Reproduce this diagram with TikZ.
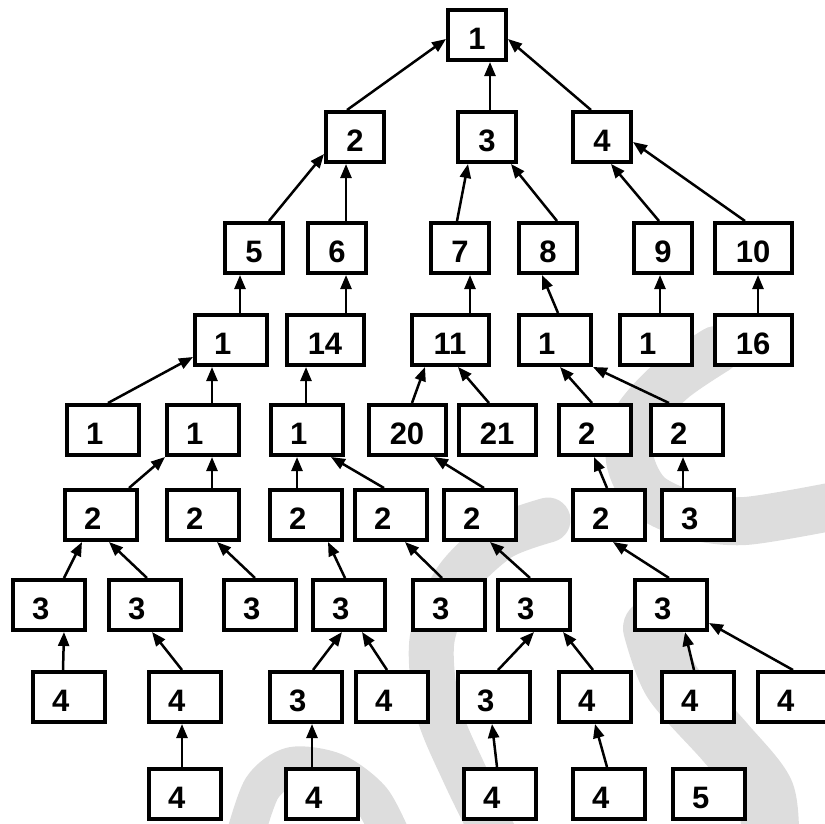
\documentclass[tikz,border=0pt]{standalone}
\usepackage{fontspec}
\setmainfont{Liberation Sans}
\usetikzlibrary{arrows.meta}
\definecolor{wmgray}{RGB}{221,221,221}
\begin{document}
\begin{tikzpicture}[x=1pt, y=-1pt,
	nbox/.style={draw, fill=white, line width=4pt, minimum height=50pt, inner ysep=0pt, text height=29pt, text depth=0pt, font=\fontsize{31}{31}\selectfont\bfseries},
	tbox/.style={nbox, minimum width=58pt},
	lbox/.style={nbox, text width=34pt, align=left, inner xsep=19pt},
	dbox/.style={nbox, minimum width=77pt},
	arr/.style={line width=2.5pt, -{Triangle[length=14pt, width=11pt]}},
	wmark/.style={wmgray, line cap=round, line join=round}]
		\useasboundingbox (0,0) rectangle (825,823);

		%grey marks behind the tree
		\draw[wmark, line width=48pt] plot[smooth] coordinates {(716,350) (672,380) (636,420) (630,460) (648,495) (690,515) (745,521) (835,506)};
		\draw[wmark, line width=45pt] plot[smooth] coordinates {(548,520) (500,538) (456,580) (432,640) (438,710) (465,775) (497,840)};
		\draw[wmark, line width=58pt] plot[smooth] coordinates {(652,628) (672,682) (725,742) (765,792) (770,845)};
		\draw[wmark, line width=38pt] plot[smooth] coordinates {(244,840) (262,788) (292,766) (335,772) (372,800) (395,845)};

		%top
		\node[tbox] (r1) at (477,35) {1};
		\node[tbox] (a2) at (355,137) {2};
		\node[tbox] (a3) at (487,137) {3};
		\node[tbox] (a4) at (602,137) {4};
		\node[tbox] (b5) at (254,248) {5};
		\node[tbox] (b6) at (337,248) {6};
		\node[tbox] (b7) at (460,248) {7};
		\node[tbox] (b8) at (548,248) {8};
		\node[tbox] (b9) at (663,248) {9};
		\node[dbox] (b10) at (753,248) {10};

		%fourth row
		\node[lbox] (c1) at (231,340) {1};
		\node[dbox] (c14) at (325,340) {14};
		\node[dbox] (c11) at (450,340) {11};
		\node[lbox] (c1b) at (555,340) {1};
		\node[lbox] (c1c) at (656,340) {1};
		\node[dbox] (c16) at (753,340) {16};

		%fifth row
		\node[lbox] (d1) at (103,430) {1};
		\node[lbox] (d1b) at (203,430) {1};
		\node[lbox] (d1c) at (307,430) {1};
		\node[dbox] (d20) at (407,430) {20};
		\node[dbox] (d21) at (497,430) {21};
		\node[lbox] (d2) at (595,430) {2};
		\node[lbox] (d2b) at (687,430) {2};

		%sixth row
		\node[lbox] (e2) at (101,515) {2};
		\node[lbox] (e2b) at (203,515) {2};
		\node[lbox] (e2c) at (306,515) {2};
		\node[lbox] (e2d) at (391,515) {2};
		\node[lbox] (e2e) at (480,515) {2};
		\node[lbox] (e2f) at (609,515) {2};
		\node[lbox] (e3) at (698,515) {3};

		%seventh row
		\node[lbox] (f3) at (49,605) {3};
		\node[lbox] (f3b) at (145,605) {3};
		\node[lbox] (f3c) at (260,605) {3};
		\node[lbox] (f3d) at (349,605) {3};
		\node[lbox] (f3e) at (449,605) {3};
		\node[lbox] (f3f) at (534,605) {3};
		\node[lbox] (f3g) at (671,605) {3};

		%eighth row
		\node[lbox] (g4) at (69,697) {4};
		\node[lbox] (g4b) at (185,697) {4};
		\node[lbox] (g3) at (306,697) {3};
		\node[lbox] (g4c) at (392,697) {4};
		\node[lbox] (g3b) at (494,697) {3};
		\node[lbox] (g4d) at (595,697) {4};
		\node[lbox] (g4e) at (698,697) {4};
		\node[lbox] (g4f) at (794,697) {4};

		%bottom
		\node[lbox] (h4) at (185,794) {4};
		\node[lbox] (h4b) at (322,794) {4};
		\node[lbox] (h4c) at (500,794) {4};
		\node[lbox] (h4d) at (609,794) {4};
		\node[lbox] (h5) at (709,794) {5};

		%arrows up to the top
		\draw[arr] ([xshift=-8pt]a2.north) -- ([yshift=-4pt]r1.west);
		\draw[arr] ([xshift=3pt]a3.north) -- ([xshift=13pt]r1.south);
		\draw[arr] ([xshift=-11pt]a4.north) -- ([yshift=-4pt]r1.east);
		\draw[arr] ([xshift=15pt]b5.north) -- ([yshift=-17pt]a2.west);
		\draw[arr] ([xshift=9pt]b6.north) -- ([xshift=-9pt]a2.south);
		\draw[arr] ([xshift=-3pt]b7.north) -- ([xshift=-19pt]a3.south);
		\draw[arr] ([xshift=9pt]b8.north) -- ([xshift=24pt]a3.south);
		\draw[arr] ([xshift=-4pt]b9.north) -- ([xshift=9pt]a4.south);
		\draw[arr] ([xshift=-8pt]b10.north) -- ([yshift=-5pt]a4.east);

		%fourth row
		\draw[arr] ([xshift=9pt]c1.north) -- ([xshift=-14pt]b5.south);
		\draw[arr] ([xshift=21pt]c14.north) -- ([xshift=9pt]b6.south);
		\draw[arr] ([xshift=20pt]c11.north) -- ([xshift=10pt]b7.south);
		\draw[arr] ([xshift=3pt]c1b.north) -- ([xshift=-6pt]b8.south);
		\draw[arr] ([xshift=4pt]c1c.north) -- ([xshift=-3pt]b9.south);
		\draw[arr] ([xshift=5pt]c16.north) -- ([xshift=5pt]b10.south);

		%fifth row
		\draw[arr] ([xshift=5pt]d1.north) -- ([yshift=-17pt]c1.west);
		\draw[arr] ([xshift=9pt]d1b.north) -- ([xshift=-19pt]c1.south);
		\draw[arr] ([xshift=-1pt]d1c.north) -- ([xshift=-19pt]c14.south);
		\draw[arr] ([xshift=5pt]d20.north) -- ([xshift=-25pt]c11.south);
		\draw[arr] ([xshift=-8pt]d21.north) -- ([xshift=8pt]c11.south);
		\draw[arr] ([xshift=-3pt]d2.north) -- ([xshift=5pt]c1b.south);
		\draw[arr] ([xshift=-18pt]d2b.north) -- (c1b.south east);

		%sixth row
		\draw[arr] ([xshift=28pt]e2.north) -- (d1b.south west);
		\draw[arr] ([xshift=9pt]e2b.north) -- ([xshift=9pt]d1b.south);
		\draw[arr] ([xshift=-9pt]e2c.north) -- ([xshift=-10pt]d1c.south);
		\draw[arr] ([xshift=-7pt]e2d.north) -- ([xshift=24pt]d1c.south);
		\draw[arr] ([xshift=4pt]e2e.north) -- ([xshift=27pt]d20.south);
		\draw[arr] ([xshift=-2pt]e2f.north) -- ([xshift=-1pt]d2.south);
		\draw[arr] ([xshift=-15pt]e3.north) -- ([xshift=-4pt]d2b.south);

		%seventh row
		\draw[arr] ([xshift=15pt]f3.north) -- ([xshift=-19pt]e2.south);
		\draw[arr] ([xshift=2pt]f3b.north) -- ([xshift=8pt]e2.south);
		\draw[arr] ([xshift=-5pt]f3c.north) -- ([xshift=14pt]e2b.south);
		\draw[arr] ([xshift=-4pt]f3d.north) -- ([xshift=22pt]e2c.south);
		\draw[arr] ([xshift=-7pt]f3e.north) -- ([xshift=14pt]e2d.south);
		\draw[arr] ([xshift=-4pt]f3f.north) -- ([xshift=10pt]e2e.south);
		\draw[arr] ([xshift=-2pt]f3g.north) -- ([xshift=4pt]e2f.south);

		%eighth row
		\draw[arr] ([xshift=-6pt]g4.north) -- ([xshift=15pt]f3.south);
		\draw[arr] ([xshift=-3pt]g4b.north) -- ([xshift=7pt]f3b.south);
		\draw[arr] ([xshift=7pt]g3.north) -- ([xshift=-7pt]f3d.south);
		\draw[arr] ([xshift=-5pt]g4c.north) -- ([xshift=13pt]f3d.south);
		\draw[arr] ([xshift=4pt]g3b.north) -- (f3f.south);
		\draw[arr] ([xshift=-2pt]g4d.north) -- ([xshift=29pt]f3f.south);
		\draw[arr] ([xshift=-4pt]g4e.north) -- ([xshift=14pt]f3g.south);
		\draw[arr] ([xshift=-1pt]g4f.north) -- ([yshift=-18pt]f3g.east);

		%bottom
		\draw[arr] ([xshift=-3pt]h4.north) -- ([xshift=-3pt]g4b.south);
		\draw[arr] ([xshift=-10pt]h4b.north) -- ([xshift=6pt]g3.south);
		\draw[arr] ([xshift=-3pt]h4c.north) -- ([xshift=-2pt]g3b.south);
		\draw[arr] ([xshift=-2pt]h4d.north) -- (g4d.south);
	\end{tikzpicture}
\end{document}
